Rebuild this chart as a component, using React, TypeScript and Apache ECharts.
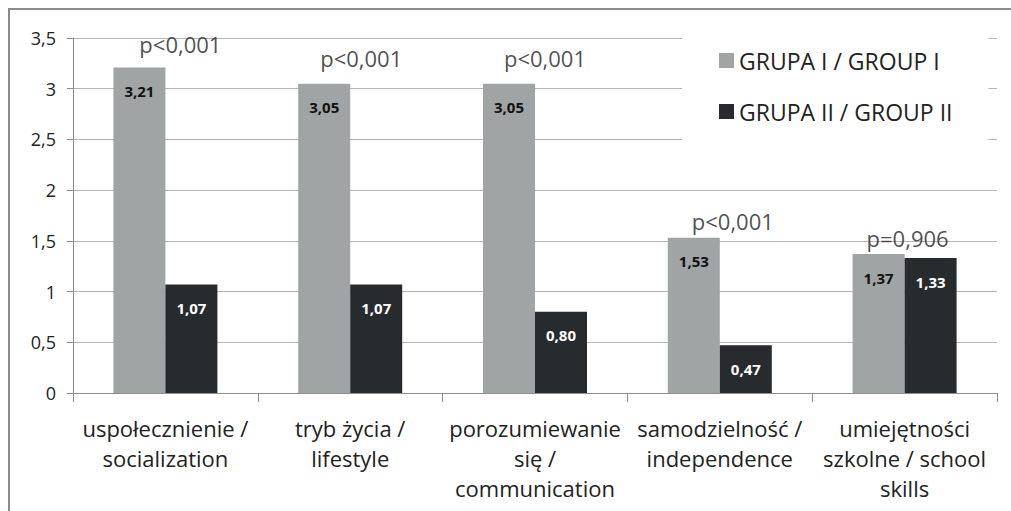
import React, { useEffect, useRef } from "react";
import * as echarts from "echarts";

const categories = [
  "uspołecznienie /\nsocialization",
  "tryb życia /\nlifestyle",
  "porozumiewanie\nsię /\ncommunication",
  "samodzielność /\nindependence",
  "umiejętności\nszkolne / school\nskills",
];
const grupa1 = [3.21, 3.05, 3.05, 1.53, 1.37];
const grupa2 = [1.07, 1.07, 0.8, 0.47, 1.33];
const pLabels = ["p<0,001", "p<0,001", "p<0,001", "p<0,001", "p=0,906"];
const seriesNames = ["GRUPA I / GROUP I", "GRUPA II / GROUP II"];

const pOffsets = [
  [15, -23],
  [11, -26],
  [10, -26],
  [13, -17],
  [3, -16],
];

const FONT = "'Open Sans', sans-serif";
const fmt = (v: number) => v.toFixed(2).replace(".", ",");

export default function App() {
  const ref = useRef<HTMLDivElement>(null);
  useEffect(() => {
    if (!ref.current) return;
    const chart = echarts.init(ref.current, null, { renderer: "svg" });
    chart.setOption({
      animation: false,
      backgroundColor: "#fff",
      textStyle: { fontFamily: FONT },
      grid: { left: 73, right: 14, top: 38, bottom: 118, containLabel: false },
      legend: {
        orient: "vertical",
        left: 682,
        top: 27,
        padding: [22, 36, 24, 37],
        backgroundColor: "#fff",
        itemWidth: 15,
        itemHeight: 15,
        itemGap: 28,
        icon: "rect",
        textStyle: { fontSize: 23, color: "#222", fontFamily: FONT },
        data: seriesNames,
        z: 5,
      },
      xAxis: {
        type: "category",
        data: categories,
        axisLine: { lineStyle: { color: "#8c8c8c", width: 1 } },
        axisTick: { show: true, length: 9, lineStyle: { color: "#8c8c8c" } },
        axisLabel: {
          interval: 0,
          fontSize: 22,
          lineHeight: 30,
          color: "#222",
          margin: 20,
          fontFamily: FONT,
        },
      },
      yAxis: {
        type: "value",
        min: 0,
        max: 3.5,
        interval: 0.5,
        axisLine: { show: true, lineStyle: { color: "#8c8c8c", width: 1 } },
        axisTick: { show: true, length: 6, lineStyle: { color: "#8c8c8c" } },
        splitLine: { lineStyle: { color: "#b5b5b5", width: 1 } },
        axisLabel: {
          fontSize: 18,
          color: "#222",
          margin: 17,
          fontFamily: FONT,
          formatter: (v: number) => String(v).replace(".", ","),
        },
      },
      series: [
        {
          name: seriesNames[0],
          type: "bar",
          data: grupa1,
          barWidth: 52,
          barGap: "0%",
          itemStyle: { color: "#a1a4a5" },
          label: {
            show: true,
            position: "insideTop",
            distance: 16,
            fontSize: 15,
            fontWeight: "bold",
            color: "#111",
            fontFamily: FONT,
            formatter: (p: any) => fmt(p.value),
          },
        },
        {
          name: seriesNames[1],
          type: "bar",
          data: grupa2,
          barWidth: 52,
          barGap: "0%",
          itemStyle: { color: "#272b2e" },
          label: {
            show: true,
            position: "insideTop",
            distance: 16,
            fontSize: 15,
            fontWeight: "bold",
            color: "#fff",
            fontFamily: FONT,
            formatter: (p: any) => fmt(p.value),
          },
        },
        {
          name: "p",
          type: "scatter",
          symbolSize: 0,
          silent: true,
          z: 10,
          data: grupa1.map((v, i) => ({
            value: v,
            label: { offset: pOffsets[i], formatter: pLabels[i] },
          })),
          label: {
            show: true,
            position: "inside",
            fontSize: 22,
            color: "#222",
            fontFamily: FONT,
          },
        },
      ],
      graphic: [
        {
          type: "line",
          shape: { x1: 8, y1: 9, x2: 1011, y2: 9 },
          style: { stroke: "#8c8c8c", lineWidth: 2 },
          z: 100,
        },
        {
          type: "line",
          shape: { x1: 9, y1: 8, x2: 9, y2: 511 },
          style: { stroke: "#8c8c8c", lineWidth: 2 },
          z: 100,
        },
      ],
    });
    return () => chart.dispose();
  }, []);
  return (
    <div
      ref={ref}
      style={{ position: "fixed", left: 0, top: 0, width: 1011, height: 511 }}
    />
  );
}
